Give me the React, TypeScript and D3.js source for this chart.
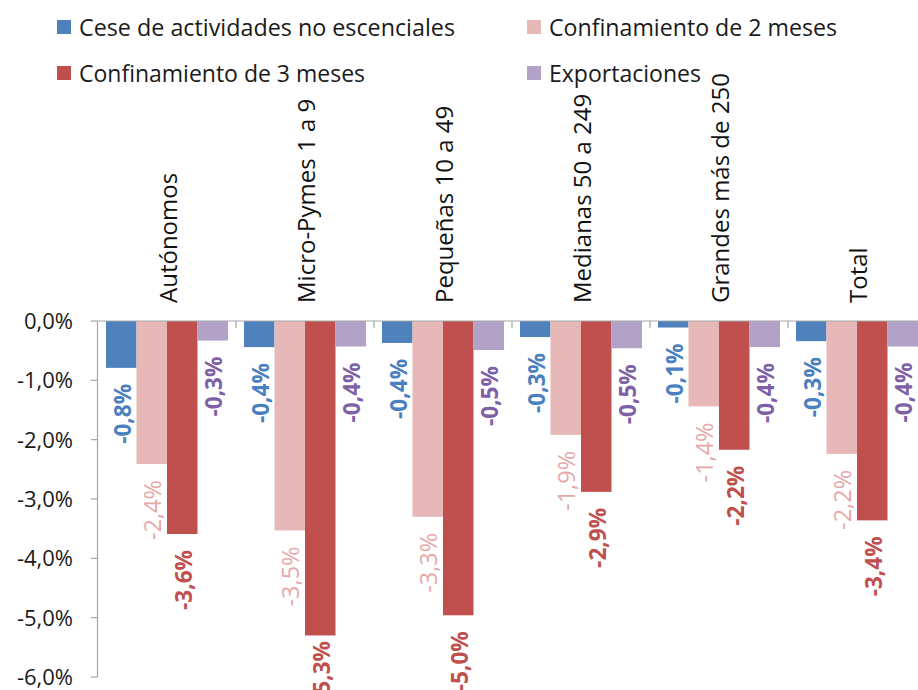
import React from "react";
import * as d3 from "d3";

const categories = [
  "Autónomos",
  "Micro-Pymes 1 a 9",
  "Pequeñas 10 a 49",
  "Medianas 50 a 249",
  "Grandes más de 250",
  "Total",
];
const seriesNames = [
  "Cese de actividades no escenciales",
  "Confinamiento de 2 meses",
  "Confinamiento de 3 meses",
  "Exportaciones",
];
const ceseValues = [-0.79, -0.44, -0.37, -0.27, -0.11, -0.34];
const conf2Values = [-2.41, -3.53, -3.3, -1.92, -1.44, -2.24];
const conf3Values = [-3.59, -5.3, -4.96, -2.88, -2.17, -3.36];
const exportValues = [-0.33, -0.43, -0.49, -0.46, -0.44, -0.43];
const yTicks = [0, -1, -2, -3, -4, -5, -6];

const seriesValues = [ceseValues, conf2Values, conf3Values, exportValues];
const barColors = ["#4f81bd", "#e6b9b8", "#c0504d", "#b3a2c7"];
const labelColors = ["#4a7fc0", "#e6a8a8", "#c0504d", "#7e60a6"];
const labelWeights = ["bold", "normal", "bold", "bold"];
const legendLayout = [
  { x: 57, y: 27, tl: 376 },
  { x: 527, y: 27, tl: 288 },
  { x: 57, y: 73, tl: 286 },
  { x: 527, y: 73, tl: 152 },
];

const FONT = "'Open Sans', 'Noto Sans', sans-serif";
const fmt = (v: number) => v.toFixed(1).replace(".", ",") + "%";

export default function App() {
  const W = 918;
  const H = 690;
  const x0 = d3
    .scaleBand<string>()
    .domain(categories)
    .range([98, 98 + 138 * categories.length])
    .paddingInner(0)
    .paddingOuter(0);
  const x1 = d3
    .scaleBand<number>()
    .domain(d3.range(seriesNames.length))
    .range([0, x0.bandwidth()])
    .paddingInner(0)
    .paddingOuter(8 / 30.5);
  const y = d3.scaleLinear().domain([-6, 0]).range([677, 321]);
  const axisColor = "#a6a6a6";

  return (
    <svg
      width={W}
      height={H}
      style={{ position: "absolute", left: 0, top: 0, background: "#fff" }}
      fontFamily={FONT}
    >
      <rect x={0} y={0} width={W} height={H} fill="#fff" />
      {/* legend */}
      {seriesNames.map((name, i) => (
        <g key={name}>
          <rect
            x={legendLayout[i].x}
            y={legendLayout[i].y - 7}
            width={14}
            height={14}
            fill={barColors[i]}
          />
          <text
            x={legendLayout[i].x + 22}
            y={legendLayout[i].y}
            dy="0.36em"
            fontSize={24}
            fill="#1a1a1a"
            textLength={legendLayout[i].tl}
            lengthAdjust="spacingAndGlyphs"
          >
            {name}
          </text>
        </g>
      ))}

      {/* bars */}
      {categories.map((c, ci) => (
        <g key={c} transform={`translate(${x0(c)},0)`}>
          {seriesValues.map((vals, si) => {
            const v = vals[ci];
            return (
              <rect
                key={si}
                x={x1(si)}
                y={y(0)}
                width={x1.bandwidth()}
                height={y(v) - y(0)}
                fill={barColors[si]}
              />
            );
          })}
        </g>
      ))}

      {/* y axis */}
      <line x1={97.5} x2={97.5} y1={y(0)} y2={y(-6)} stroke={axisColor} strokeWidth={1.2} />
      {yTicks.map((t) => (
        <g key={t}>
          <line x1={91} x2={97.5} y1={y(t)} y2={y(t)} stroke={axisColor} strokeWidth={1.2} />
          <text
            x={73}
            y={y(t)}
            dy="0.36em"
            textAnchor="end"
            fontSize={22}
            fill="#1a1a1a"
          >
            {fmt(t)}
          </text>
        </g>
      ))}

      {/* zero line + category ticks */}
      <line x1={97.5} x2={W} y1={y(0)} y2={y(0)} stroke={axisColor} strokeWidth={1.2} />
      {categories.map((c) => (
        <line
          key={c}
          x1={(x0(c) as number) + 138}
          x2={(x0(c) as number) + 138}
          y1={y(0)}
          y2={y(0) + 7}
          stroke={axisColor}
          strokeWidth={1.2}
        />
      ))}

      {/* category labels */}
      {categories.map((c) => {
        const cx = (x0(c) as number) + x0.bandwidth() / 2 + 1;
        return (
          <text
            key={c}
            transform={`translate(${cx},303) rotate(-90)`}
            dy="0.36em"
            textAnchor="start"
            fontSize={24}
            fill="#111"
          >
            {c}
          </text>
        );
      })}

      {/* data labels */}
      {categories.map((c, ci) => (
        <g key={c}>
          {seriesValues.map((vals, si) => {
            const v = vals[ci];
            const cx = (x0(c) as number) + (x1(si) as number) + x1.bandwidth() / 2 + 1;
            const yy = Math.min(y(v) + 16, 641);
            return (
              <text
                key={si}
                transform={`translate(${cx},${yy}) rotate(-90)`}
                dy="0.36em"
                textAnchor="end"
                fontSize={23}
                fontWeight={labelWeights[si]}
                fill={labelColors[si]}
                textLength={60}
                lengthAdjust="spacingAndGlyphs"
              >
                {fmt(v)}
              </text>
            );
          })}
        </g>
      ))}
    </svg>
  );
}
